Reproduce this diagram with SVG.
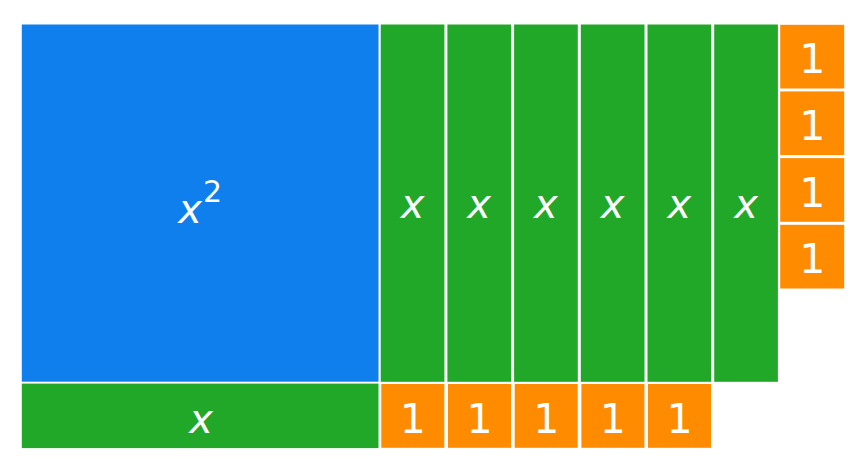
<svg xmlns="http://www.w3.org/2000/svg" width="863" height="459" viewBox="0 0 863 459">
<style>
.sq{fill:#0F7FEE}
.bar{fill:#22A829}
.one{fill:#FF8C00}
text{fill:#FFFFFF;font-family:"DejaVu Sans",sans-serif;text-anchor:middle}
.v{font-style:italic;font-size:40px}
.n{font-size:41px}
.sup{font-size:30px}
</style>
<rect width="863" height="459" fill="#FFFFFF"/>
<g id="x2">
<rect class="sq" x="21.8" y="24.5" width="356.7" height="357.2"/>
<text class="v" x="190" y="223.3">x</text>
<text class="sup" x="212.5" y="201.7">2</text>
</g>
<g id="xbar1"><rect class="bar" x="380.7" y="24.5" width="63.7" height="357.3"/><text class="v" x="412.5" y="217.5">x</text></g>
<g id="xbar2"><rect class="bar" x="447.4" y="24.5" width="63.7" height="357.3"/><text class="v" x="479.2" y="217.5">x</text></g>
<g id="xbar3"><rect class="bar" x="514.1" y="24.5" width="63.7" height="357.3"/><text class="v" x="545.9" y="217.5">x</text></g>
<g id="xbar4"><rect class="bar" x="580.8" y="24.5" width="63.7" height="357.3"/><text class="v" x="612.6" y="217.5">x</text></g>
<g id="xbar5"><rect class="bar" x="647.5" y="24.5" width="63.7" height="357.3"/><text class="v" x="679.3" y="217.5">x</text></g>
<g id="xbar6"><rect class="bar" x="714.2" y="24.5" width="63.7" height="357.3"/><text class="v" x="746" y="217.5">x</text></g>
<g id="one_r1"><rect class="one" x="780.2" y="24.8" width="64" height="63.7"/><text class="n" x="812.2" y="73.3">1</text></g>
<g id="one_r2"><rect class="one" x="780.2" y="91.4" width="64" height="63.7"/><text class="n" x="812.2" y="139.9">1</text></g>
<g id="one_r3"><rect class="one" x="780.2" y="158.1" width="64" height="63.7"/><text class="n" x="812.2" y="206.6">1</text></g>
<g id="one_r4"><rect class="one" x="780.2" y="224.8" width="64" height="63.7"/><text class="n" x="812.2" y="273.3">1</text></g>
<g id="xbar_bottom">
<rect class="bar" x="21.8" y="383.6" width="356.7" height="64.5"/>
<text class="v" x="201" y="432.7">x</text>
</g>
<g id="one_b1"><rect class="one" x="381.3" y="384" width="63" height="63.8"/><text class="n" x="412.8" y="432.7">1</text></g>
<g id="one_b2"><rect class="one" x="448" y="384" width="63" height="63.8"/><text class="n" x="479.5" y="432.7">1</text></g>
<g id="one_b3"><rect class="one" x="514.7" y="384" width="63" height="63.8"/><text class="n" x="546.2" y="432.7">1</text></g>
<g id="one_b4"><rect class="one" x="581.4" y="384" width="63" height="63.8"/><text class="n" x="612.9" y="432.7">1</text></g>
<g id="one_b5"><rect class="one" x="648" y="384" width="63" height="63.8"/><text class="n" x="679.5" y="432.7">1</text></g>
<g id="connectors"/>
</svg>
